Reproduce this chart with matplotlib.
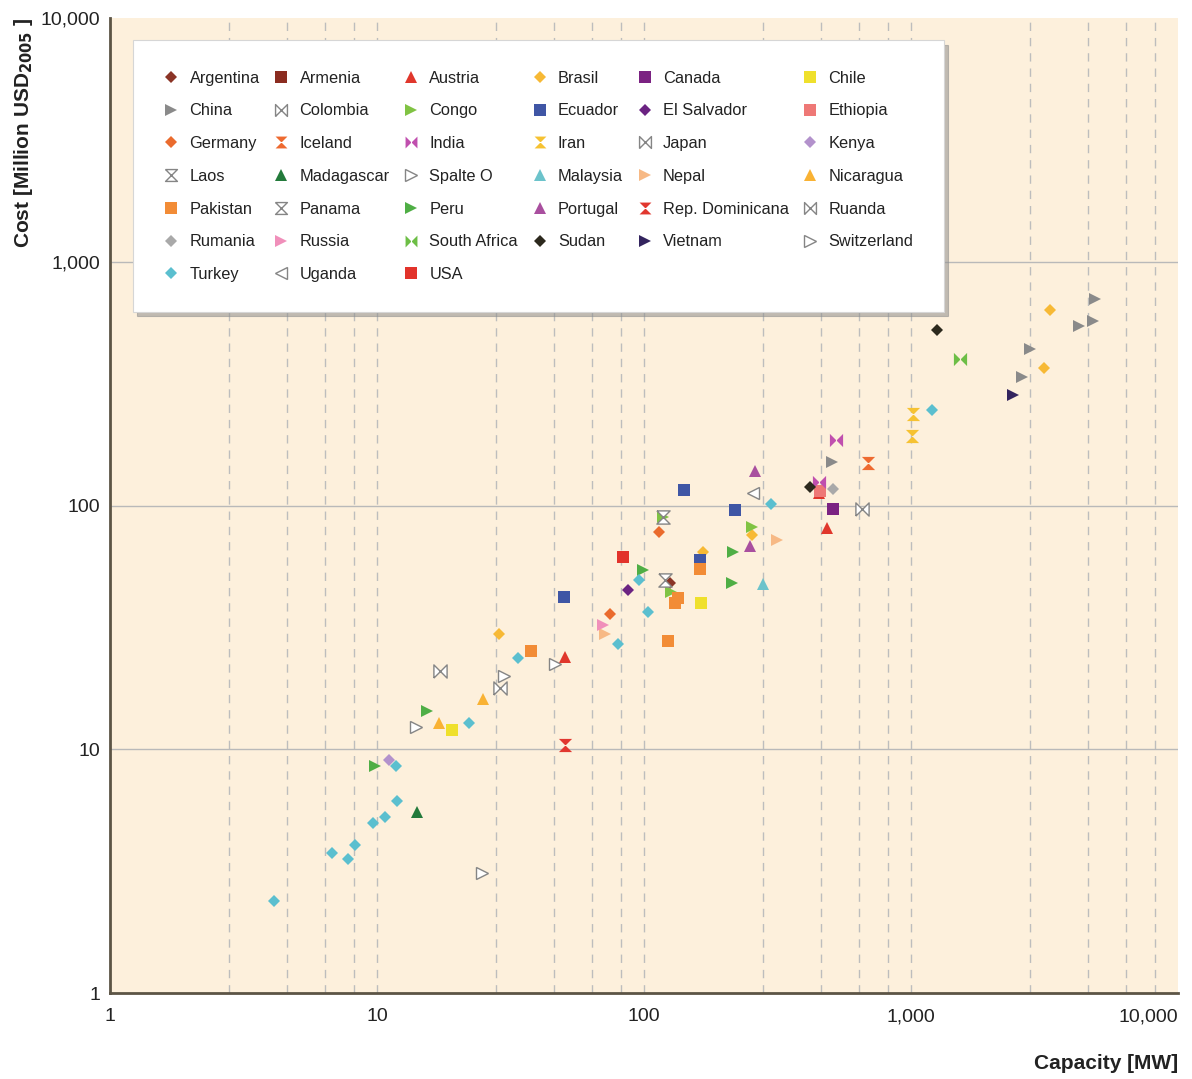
import numpy as np
import matplotlib.pyplot as plt
from matplotlib.lines import Line2D

plt.rcParams['font.family'] = ['Liberation Sans', 'DejaVu Sans']

# capacity [MW] / cost [million USD 2005] per country
argentina_x, argentina_y = [125], [47.9]
armenia_x, armenia_y = [], []
austria_x, austria_y = [50.6, 452, 484], [24.0, 113, 80.5]
brasil_x, brasil_y = [28.6, 166, 254, 3319, 3150], [29.6, 64.2, 75.4, 635, 368]
canada_x, canada_y = [510], [96.3]
chile_x, chile_y = [19.1, 163], [12.0, 39.7]
china_x, china_y = [506, 2606, 2791, 4256, 4808, 4889], [151, 338, 440, 547, 573, 705]
colombia_x, colombia_y = [17.2], [20.9]
congo_x, congo_y = [118, 126, 254], [89.3, 44.0, 81.3]
ecuador_x, ecuador_y = [50.2, 141, 162, 219], [42.0, 116, 59.5, 95.4]
elsalvador_x, elsalvador_y = [87.1], [44.9]
ethiopia_x, ethiopia_y = [456], [115]
germany_x, germany_y = [74.6, 114], [35.8, 77.5]
iceland_x, iceland_y = [690], [149]
india_x, india_y = [452, 524], [125, 186]
iran_x, iran_y = [1009, 1017], [192, 238]
japan_x, japan_y = [655], [97.2]
kenya_x, kenya_y = [11.1], [9.0]
laos_x, laos_y = [118], [89.3]
madagascar_x, madagascar_y = [14.1], [5.52]
spalte_x, spalte_y = [24.8, 29.9], [3.10, 19.9]
malaysia_x, malaysia_y = [279], [47.5]
nepal_x, nepal_y = [71.4, 315], [29.6, 72.2]
nicaragua_x, nicaragua_y = [17.1, 25.0], [12.8, 16.0]
pakistan_x, pakistan_y = [37.7, 123, 131, 134, 162], [25.2, 27.8, 39.7, 41.6, 54.7]
panama_x, panama_y = [120], [49.3]
peru_x, peru_y = [9.83, 15.4, 99.1, 214, 215], [8.5, 14.3, 54.2, 48.3, 64.2]
portugal_x, portugal_y = [249, 261], [67.9, 139]
repdom_x, repdom_y = [50.6], [10.4]
ruanda_x, ruanda_y = [28.9], [17.9]
rumania_x, rumania_y = [510], [117]
russia_x, russia_y = [70.2], [32.2]
southafrica_x, southafrica_y = [1527], [400]
sudan_x, sudan_y = [419, 1251], [118.6, 526]
vietnam_x, vietnam_y = [2410], [285]
switzerland_x, switzerland_y = [14.0, 46.4], [12.3, 22.3]
turkey_x = [4.1, 6.8, 7.8, 8.3, 9.7, 10.7, 11.9, 11.8, 22.1, 33.7, 80, 95.8, 103.5, 299, 1199]
turkey_y = [2.38, 3.75, 3.55, 4.05, 5.0, 5.26, 6.15, 8.5, 12.8, 23.6, 26.9, 49.3, 36.4, 101, 247]
uganda_x, uganda_y = [256], [113]
usa_x, usa_y = [83.4], [61.2]

# custom markers
bowtie = [(-1, -1), (-1, 1), (1, -1), (1, 1), (-1, -1)]
hourglass = [(-1, 1), (1, 1), (-1, -1), (1, -1), (-1, 1)]

# name, x, y, marker, color (None = hollow)
series = [
    ('Argentina', argentina_x, argentina_y, 'D', '#8b3426'),
    ('Armenia', armenia_x, armenia_y, 's', '#8b2c20'),
    ('Austria', austria_x, austria_y, '^', '#e0372c'),
    ('Brasil', brasil_x, brasil_y, 'D', '#f7b935'),
    ('Canada', canada_x, canada_y, 's', '#7b2282'),
    ('Chile', chile_x, chile_y, 's', '#efe02c'),
    ('China', china_x, china_y, '>', '#8a8a8a'),
    ('Colombia', colombia_x, colombia_y, bowtie, None),
    ('Congo', congo_x, congo_y, '>', '#80c343'),
    ('Ecuador', ecuador_x, ecuador_y, 's', '#3f56a5'),
    ('El Salvador', elsalvador_x, elsalvador_y, 'D', '#6b2382'),
    ('Ethiopia', ethiopia_x, ethiopia_y, 's', '#ee7876'),
    ('Germany', germany_x, germany_y, 'D', '#ea6b2d'),
    ('Iceland', iceland_x, iceland_y, hourglass, '#ee6a30'),
    ('India', india_x, india_y, bowtie, '#c04fae'),
    ('Iran', iran_x, iran_y, hourglass, '#f6c232'),
    ('Japan', japan_x, japan_y, bowtie, None),
    ('Kenya', kenya_x, kenya_y, 'D', '#b392cc'),
    ('Laos', laos_x, laos_y, hourglass, None),
    ('Madagascar', madagascar_x, madagascar_y, '^', '#237a3b'),
    ('Spalte O', spalte_x, spalte_y, '>', None),
    ('Malaysia', malaysia_x, malaysia_y, '^', '#6cc3cb'),
    ('Nepal', nepal_x, nepal_y, '>', '#f7b985'),
    ('Nicaragua', nicaragua_x, nicaragua_y, '^', '#f9b234'),
    ('Pakistan', pakistan_x, pakistan_y, 's', '#f28c36'),
    ('Panama', panama_x, panama_y, hourglass, None),
    ('Peru', peru_x, peru_y, '>', '#4fae45'),
    ('Portugal', portugal_x, portugal_y, '^', '#a94f9f'),
    ('Rep. Dominicana', repdom_x, repdom_y, hourglass, '#e1372f'),
    ('Ruanda', ruanda_x, ruanda_y, bowtie, None),
    ('Rumania', rumania_x, rumania_y, 'D', '#a9a9a9'),
    ('Russia', russia_x, russia_y, '>', '#f08fba'),
    ('South Africa', southafrica_x, southafrica_y, bowtie, '#6dbe46'),
    ('Sudan', sudan_x, sudan_y, 'D', '#2c291d'),
    ('Vietnam', vietnam_x, vietnam_y, '>', '#33245e'),
    ('Switzerland', switzerland_x, switzerland_y, '>', None),
    ('Turkey', turkey_x, turkey_y, 'D', '#5bbfcf'),
    ('Uganda', uganda_x, uganda_y, '<', None),
    ('USA', usa_x, usa_y, 's', '#e2332b'),
]

sizes = {'D': 6.4, 's': 9, '^': 9, '>': 9, '<': 9}

fig, ax = plt.subplots(figsize=(11.92, 10.79), dpi=100)
fig.subplots_adjust(left=110/1192, right=1178/1192, bottom=1-993/1079, top=1-18/1079)
ax.set_facecolor('#fdf0dc')
ax.set_xscale('log')
ax.set_yscale('log')
ax.set_xlim(1, 10000)
ax.set_ylim(1, 10000)

# grid: dashed verticals, solid horizontals
for d in [1, 10, 100, 1000]:
    for k in [2.8, 4.6, 6.4, 8.2, 10]:
        if k * d < 10000:
            ax.axvline(k * d, color='#bdbdbd', lw=1, ls=(0, (6, 5)), zorder=0)
for v in [10, 100, 1000]:
    ax.axhline(v, color='#b9b9b9', lw=1, zorder=0)

handles = {}
for name, xs, ys, m, c in series:
    ms = sizes.get(m, 9.5) if isinstance(m, str) else 9.5
    if c is None:
        ln, = ax.plot(xs, ys, ls='none', marker=m, ms=ms, mfc='white', mec='#858585', mew=1, label=name, zorder=3)
    else:
        ln, = ax.plot(xs, ys, ls='none', marker=m, ms=ms, mfc=c, mec=c, mew=0, label=name, zorder=3)
    handles[name] = ln

ticks = [1, 10, 100, 1000, 10000]
tick_labels = ['1', '10', '100', '1,000', '10,000']
ax.set_xticks(ticks)
ax.set_xticklabels(tick_labels)
ax.set_yticks(ticks)
ax.set_yticklabels(tick_labels)
ax.minorticks_off()
ax.xaxis.get_majorticklabels()[-1].set_horizontalalignment('right')
ax.tick_params(axis='x', length=0, pad=11, labelsize=14, labelcolor='#222222')
ax.tick_params(axis='y', length=0, pad=7, labelsize=14, labelcolor='#222222')

for s in ['top', 'right']:
    ax.spines[s].set_visible(False)
for s in ['left', 'bottom']:
    ax.spines[s].set_color('#5c5445')
    ax.spines[s].set_linewidth(2)

ax.set_ylabel('Cost [Million USD$_{\\mathbf{2005}}$ ]', fontsize=15, fontweight='bold', loc='top', color='#222222')
ax.yaxis.set_label_coords(-0.07, 1.0)
ax.set_xlabel('Capacity [MW]', fontsize=15, fontweight='bold', loc='right', color='#222222')
ax.xaxis.set_label_coords(1.0, -0.063)

# legend laid out row by row, like the original
rows = [
    ['Argentina', 'Armenia', 'Austria', 'Brasil', 'Canada', 'Chile'],
    ['China', 'Colombia', 'Congo', 'Ecuador', 'El Salvador', 'Ethiopia'],
    ['Germany', 'Iceland', 'India', 'Iran', 'Japan', 'Kenya'],
    ['Laos', 'Madagascar', 'Spalte O', 'Malaysia', 'Nepal', 'Nicaragua'],
    ['Pakistan', 'Panama', 'Peru', 'Portugal', 'Rep. Dominicana', 'Ruanda'],
    ['Rumania', 'Russia', 'South Africa', 'Sudan', 'Vietnam', 'Switzerland'],
    ['Turkey', 'Uganda', 'USA', None, None, None],
]
leg_h, leg_l = [], []
for c in range(6):
    for r in range(7):
        n = rows[r][c]
        if n is None:
            leg_h.append(Line2D([], [], ls='none'))
            leg_l.append('')
        else:
            leg_h.append(handles[n])
            leg_l.append(n)

leg = ax.legend(leg_h, leg_l, ncol=6, loc='upper left', mode='expand',
                bbox_to_anchor=(0.0215, 0.60, 0.759, 0.377), borderaxespad=0,
                fontsize=11.8, markerscale=0.9, handlelength=1.0, handletextpad=0.6,
                labelspacing=1.08, borderpad=1.85, columnspacing=1.0,
                frameon=True, fancybox=False, framealpha=1, edgecolor='#d6d6d6',
                shadow={'ox': 3, 'oy': -3, 'color': '#8f8f8f', 'alpha': 0.55})
leg.get_frame().set_linewidth(0.8)
for t in leg.get_texts():
    t.set_color('#222222')

fig.savefig('out.png', dpi=100, facecolor='white')
